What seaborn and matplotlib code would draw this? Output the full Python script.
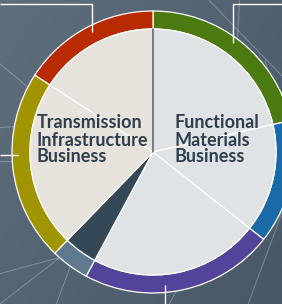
"""
Business segment donut: inner split by business, outer ring by sub-segment.
"""

import numpy as np
import matplotlib
matplotlib.use('Agg')
import matplotlib.pyplot as plt
import seaborn as sns

# outer ring segments, clockwise from 12 o'clock (share of circle, %)
segments = ['Seg A', 'Seg B', 'Seg C', 'Seg D', 'Seg E', 'Seg F']
segment_share = [21.4, 14.2, 22.2, 4.4, 21.9, 15.8]
segment_colors = ['#4a7a10', '#1a6aa8', '#54439a', '#5f7a8e', '#a09400', '#b82a00']

# inner wedges follow the same split, coloured by business
inner_colors = ['#e0e3e6', '#e0e3e6', '#e0e3e6', '#354858', '#e6e2dc', '#e6e2dc']

labels = ['Transmission\nInfrastructure\nBusiness', 'Functional\nMaterials\nBusiness']
text_color = '#2f3e4d'

sns.set_theme(style='white')
plt.rcParams['font.family'] = ['Lato', 'DejaVu Sans']

fig = plt.figure(figsize=(2.82, 3.04), dpi=100)

# background gradient
bg = fig.add_axes([0, 0, 1, 1])
grad = np.linspace(0, 1, 256)[None, :] * 0.6 + np.linspace(0, 1, 256)[:, None] * 0.4
bg.imshow(grad, cmap=matplotlib.colors.LinearSegmentedColormap.from_list('bg', ['#5f6e7d', '#485866']),
          aspect='auto', extent=[0, 1, 0, 1])
bg.set_xlim(0, 1)
bg.set_ylim(0, 1)
bg.axis('off')

# faint network lines in the background
net = [((0.0, 0.47), (0.3, 0.47)), ((0.0, 0.79), (0.22, 0.62)), ((0.85, 1.0), (0.83, 0.7)),
       ((0.74, 1.0), (1.0, 0.75)), ((0.0, 0.1), (0.4, 0.2)), ((0.0, 0.58), (0.3, 0.6)),
       ((0.6, 0.0), (0.75, 0.25)), ((0.88, 0.0), (1.0, 0.3)), ((0.2, 0.0), (0.3, 0.25)),
       ((0.0, 0.0), (0.25, 0.18)), ((0.94, 0.8), (1.0, 0.6))]
for (x0, y0), (x1, y1) in net:
    bg.plot([x0, x1], [y0, y1], color='#c8d0d8', lw=0.7, alpha=0.4)

ax = fig.add_axes([0, 0, 1, 1])

R = 141
W = 18

ax.pie(segment_share, radius=R, colors=segment_colors, startangle=90, counterclock=False,
       wedgeprops=dict(width=W, edgecolor='white', linewidth=0.9))
ax.pie(segment_share, radius=R - W, colors=inner_colors, startangle=90, counterclock=False,
       wedgeprops=dict(edgecolor='white', linewidth=0.9))

# dark divider between the two businesses at the top
ax.plot([0, 0], [0, R - W], color='#4a5a6a', lw=1.1)

# leader lines
for xs, ys in [([-153, -61, -61], [148.5, 148.5, 120]),
               ([129, 80, 80], [148.5, 148.5, 109]),
               ([-153, -135], [-3, -3]),
               ([12, 12], [-133, -152])]:
    ax.plot(xs, ys, color='white', lw=1.0, solid_capstyle='butt')

ax.text(-116, 12, labels[0], fontsize=13, fontweight='bold', color=text_color,
        ha='left', va='center', linespacing=1.0)
ax.text(21, 12, labels[1], fontsize=13, fontweight='bold', color=text_color,
        ha='left', va='center', linespacing=1.0)

ax.set_xlim(-153, 129)
ax.set_ylim(-152, 152)
ax.set_aspect('equal')
ax.axis('off')

fig.savefig('out.png', dpi=100)
